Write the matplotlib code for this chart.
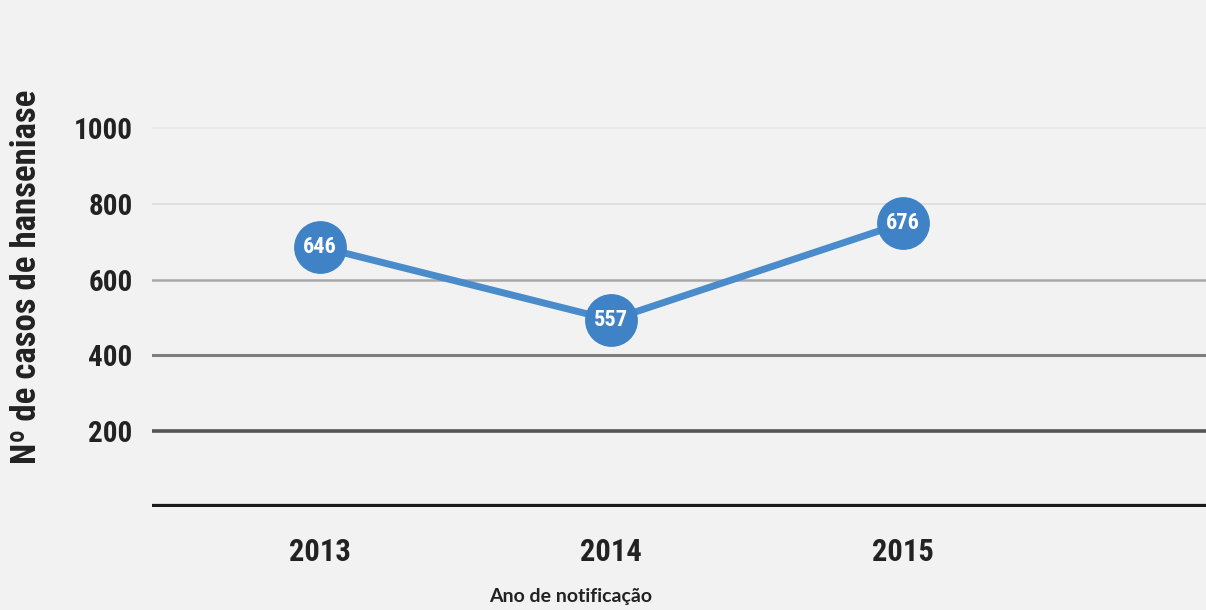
import matplotlib.pyplot as plt
from matplotlib import font_manager

# Notified leprosy cases per year
anos = ["2013", "2014", "2015"]
casos_rotulo = [646, 557, 676]        # numbers printed inside the markers
casos_plotados = [687, 494, 750]      # heights at which the markers sit in the picture
y_ticks = [200, 400, 600, 800, 1000]

names = {f.name for f in font_manager.fontManager.ttflist}
narrow = [n for n in ["Liberation Sans Narrow", "DejaVu Sans Condensed", "Roboto Condensed"] if n in names] + ["DejaVu Sans"]

fig = plt.figure(figsize=(12.06, 6.10), dpi=100, facecolor="#f2f2f2")
ax = fig.add_axes([0.126, 0.169, 0.874, 0.6826])
ax.set_facecolor("none")

# gridlines get darker and thicker towards the bottom
grid_colors = ["#555555", "#7d7d7d", "#a8a8a8", "#dcdcdc", "#e6e6e6"]
grid_widths = [2.6, 2.2, 1.8, 1.2, 1.2]
for val, c, w in zip(y_ticks, grid_colors, grid_widths):
    ax.axhline(val, color=c, lw=w, zorder=1)
ax.axhline(0, color="#1a1a1a", lw=4.5, zorder=1)

x = range(len(anos))
ax.plot(x, casos_plotados, color="#4a8bcb", lw=5, marker="o", ms=37,
        markerfacecolor="#3f83c6", markeredgecolor="#3f83c6", zorder=3)
for xi, yi, lab in zip(x, casos_plotados, casos_rotulo):
    ax.text(xi, yi, str(lab), color="white", fontsize=16, fontweight="bold",
            family=narrow, ha="center", va="center", zorder=4)

ax.set_xlim(-0.576, 3.04)
ax.set_ylim(0, 1100)
ax.set_xticks(list(x))
ax.set_xticklabels(anos, fontsize=22, fontweight="bold", family=narrow, color="#222222")
ax.set_yticks(y_ticks)
ax.set_yticklabels([str(v) for v in y_ticks], fontsize=21, fontweight="bold",
                   family=narrow, color="#222222")
ax.tick_params(length=0, axis="x", pad=22)
ax.tick_params(length=0, axis="y", pad=14)
for s in ax.spines.values():
    s.set_visible(False)

ax.set_xlabel("Ano de notificação", fontsize=14, fontweight="bold", family=["Lato", "DejaVu Sans"],
              color="#222222")
ax.xaxis.set_label_coords(0.397, -0.195)
ax.set_ylabel("Nº de casos de hanseniase", fontsize=25, fontweight="bold",
              family=narrow, color="#222222")
ax.yaxis.set_label_coords(-0.103, 0.553)

fig.savefig("out.png", dpi=100, facecolor=fig.get_facecolor())
